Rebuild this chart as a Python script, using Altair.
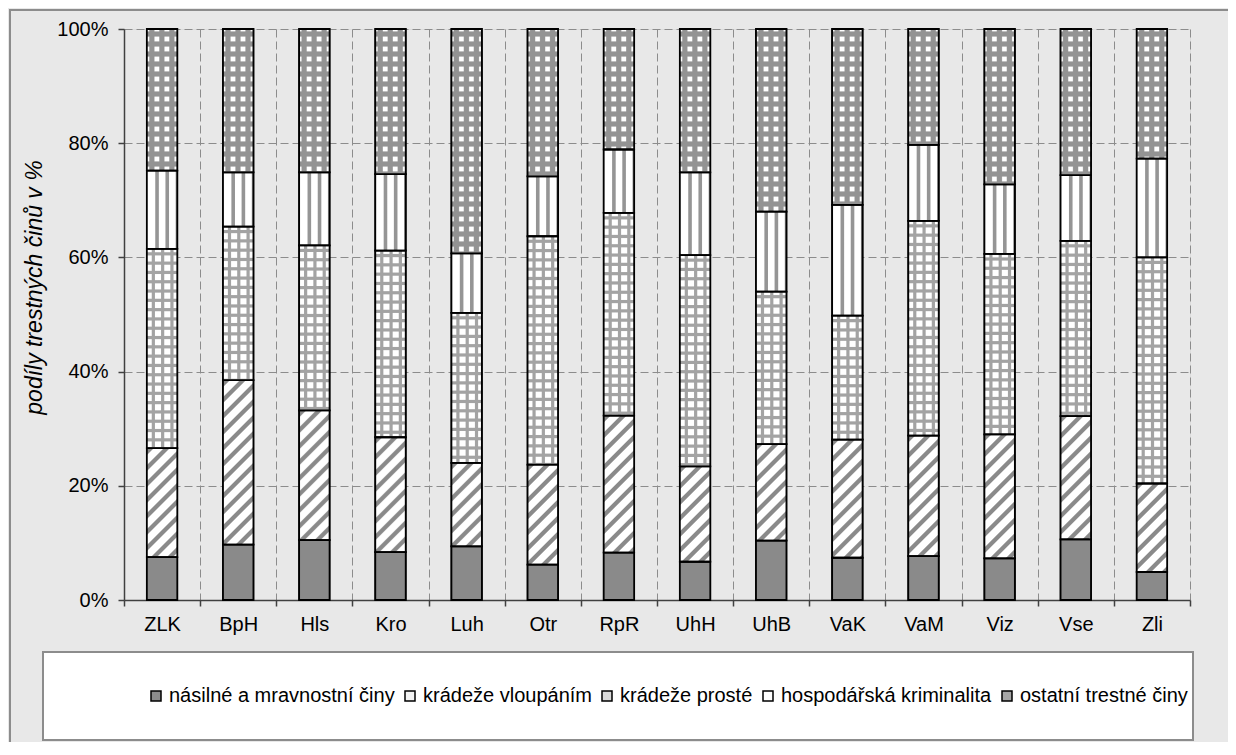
import altair as alt

# ---------------- data ----------------
categories = ["ZLK", "BpH", "Hls", "Kro", "Luh", "Otr", "RpR", "UhH", "UhB", "VaK", "VaM", "Viz", "Vse", "Zli"]
series = ["násilné a mravnostní činy", "krádeže vloupáním", "krádeže prosté",
          "hospodářská kriminalita", "ostatní trestné činy"]
nasilne = [7.5, 9.7, 10.5, 8.4, 9.4, 6.2, 8.3, 6.7, 10.4, 7.4, 7.7, 7.3, 10.6, 4.9]
vloupanim = [19.1, 28.8, 22.7, 20.1, 14.6, 17.5, 24.0, 16.7, 16.9, 20.7, 21.1, 21.7, 21.6, 15.5]
proste = [34.9, 26.9, 28.9, 32.7, 26.3, 40.0, 35.5, 37.0, 26.7, 21.7, 37.6, 31.6, 30.7, 39.6]
hospodarska = [13.7, 9.5, 12.8, 13.4, 10.4, 10.5, 11.1, 14.5, 14.0, 19.4, 13.3, 12.2, 11.5, 17.3]
ostatni = [24.8, 25.1, 25.1, 25.4, 39.3, 25.8, 21.1, 25.1, 32.0, 30.8, 20.3, 27.2, 25.6, 22.7]
y_ticks = [0, 20, 40, 60, 80, 100]

# ---------------- layout / style ----------------
PLOT_W, PLOT_H = 1066, 571
BAR_FRAC = 0.4
BAR_W = PLOT_W / len(categories) * BAR_FRAC
FONT = "Liberation Sans"
legend_colors = ["#8c8c8c", "#f2f2f2", "#d9d9d9", "#ffffff", "#a6a6a6"]


def stripe_stops(smax, k, period, width, color, bg, phase, blur):
    stops = [{"offset": 0, "color": bg}]
    c = phase
    while c - width / 2 - blur < smax:
        for s, col in ((c - width / 2 - blur, bg), (c - width / 2, color),
                       (c + width / 2, color), (c + width / 2 + blur, bg)):
            t = min(max(s * k, 0.0), 1.0)
            if t >= stops[-1]["offset"]:
                stops.append({"offset": round(t, 5), "color": col})
        c += period
    stops.append({"offset": 1, "color": bg})
    return stops


def vlines(period, width, color, bg, phase, blur=1.0):
    return {"gradient": "linear", "x1": 0, "y1": 0, "x2": 1, "y2": 0,
            "stops": stripe_stops(BAR_W, 1 / BAR_W, period, width, color, bg, phase, blur)}


def hlines(h, period, width, color, bg, phase, blur=1.0):
    return {"gradient": "linear", "x1": 0, "y1": 0, "x2": 0, "y2": 1,
            "stops": stripe_stops(h, 1 / h, period, width, color, bg, phase, blur)}


def diag(h, period, width, color, bg, phase, blur=1.5):
    w = BAR_W
    k = w / (w * w + h * h)
    return {"gradient": "linear", "x1": 0, "y1": 0, "x2": 1, "y2": h / w,
            "stops": stripe_stops(w + h, k, period, width, color, bg, phase, blur)}


columns = [nasilne, vloupanim, proste, hospodarska, ostatni]
rows = []
for ci, cat in enumerate(categories):
    base_y = 0.0
    for si, name in enumerate(series):
        v = columns[si][ci]
        h = v / 100 * PLOT_H
        if si == 0:
            g1, g2 = "#8a8a8a", "transparent"
        elif si == 1:
            g1, g2 = diag(h, 16, 4.5, "#8a8a8a", "#ffffff", 4), "transparent"
        elif si == 2:
            g1 = vlines(9.3, 2.2, "#a3a3a3", "#ffffff", 6.5)
            g2 = hlines(h, 9.3, 2.2, "#a3a3a3", "rgba(163,163,163,0)", 5)
        elif si == 3:
            g1, g2 = vlines(10.2, 2.6, "#959595", "#ffffff", 10.2), "transparent"
        else:
            g1 = vlines(10, 4.0, "#939393", "#ffffff", 5, 1.2)
            g2 = hlines(h, 10, 4.0, "#939393", "rgba(147,147,147,0)", 5, 1.2)
        rows.append({"cat": cat, "series": name, "y0": round(base_y, 3),
                     "y1": round(base_y + v, 3), "g1": g1, "g2": g2})
        base_y += v

data = alt.Data(values=rows)

x_enc = alt.X("cat:N", sort=categories,
              scale=alt.Scale(paddingInner=0, paddingOuter=0),
              axis=alt.Axis(title=None, labelAngle=0, tickBand="extent", grid=True,
                            gridDash=[8, 4], gridColor="#8c8c8c", gridWidth=1,
                            domainColor="#404040", domainWidth=1.5,
                            tickColor="#404040", tickWidth=1.5, tickSize=6,
                            labelFontSize=20, labelFont=FONT, labelColor="black",
                            labelPadding=8))
y_enc = alt.Y("y0:Q", scale=alt.Scale(domain=[0, 100], nice=False, zero=True),
              axis=alt.Axis(title="podíly trestných činů v %", values=y_ticks,
                            labelExpr="datum.value + '%'", grid=True,
                            gridDash=[8, 4], gridColor="#8c8c8c", gridWidth=1,
                            domainColor="#404040", domainWidth=1.5,
                            tickColor="#404040", tickWidth=1.5, tickSize=6,
                            labelFontSize=20, labelFont=FONT, labelColor="black",
                            labelPadding=10, titleFont=FONT, titleFontSize=23,
                            titleFontStyle="italic", titleFontWeight="normal",
                            titleColor="black", titlePadding=10, titleY=258))
y2_enc = alt.Y2("y1:Q")

layer_a = alt.Chart(data).mark_bar(width=alt.RelativeBandSize(BAR_FRAC), stroke="black",
                                   strokeWidth=1.5).encode(
    x=x_enc, y=y_enc, y2=y2_enc,
    color=alt.Color("series:N", scale=alt.Scale(domain=series, range=legend_colors),
                    legend=alt.Legend(title=None, orient="none", legendX=22, legendY=657,
                                      direction="horizontal", columns=5,
                                      symbolType="square", symbolSize=100,
                                      symbolStrokeColor="black", symbolStrokeWidth=1.5,
                                      labelFont=FONT, labelFontSize=20, labelColor="black",
                                      labelOffset=3, labelLimit=0, columnPadding=5,
                                      padding=0)))

layer_b = alt.Chart(data).mark_bar(width=alt.RelativeBandSize(BAR_FRAC), strokeWidth=0).encode(
    x=x_enc, y=y_enc, y2=y2_enc, fill=alt.Fill("g1:N", scale=None))

layer_c = alt.Chart(data).mark_bar(width=alt.RelativeBandSize(BAR_FRAC), stroke="black",
                                   strokeWidth=1.8).encode(
    x=x_enc, y=y_enc, y2=y2_enc, fill=alt.Fill("g2:N", scale=None))

frame = alt.Data(values=[{"k": 0}])
outer_border = alt.Chart(frame).mark_rect(fill="transparent", stroke="#8c8c8c", strokeWidth=2).encode(
    x=alt.value(-114), x2=alt.value(1300), y=alt.value(-19), y2=alt.value(900))
legend_box = alt.Chart(frame).mark_rect(fill="white", stroke="#8c8c8c", strokeWidth=2).encode(
    x=alt.value(-81), x2=alt.value(1069), y=alt.value(623), y2=alt.value(711))

chart = alt.layer(outer_border, legend_box, layer_a, layer_b, layer_c).properties(
    width=PLOT_W, height=PLOT_H,
    autosize="none",
    padding={"left": 116, "top": 21, "right": 38, "bottom": 142},
    background="#e8e8e8",
).configure_view(fill="white", stroke="#8c8c8c", strokeWidth=1.5).configure(font=FONT)

chart.save("out.html", embed_options={"renderer": "svg", "actions": False})
